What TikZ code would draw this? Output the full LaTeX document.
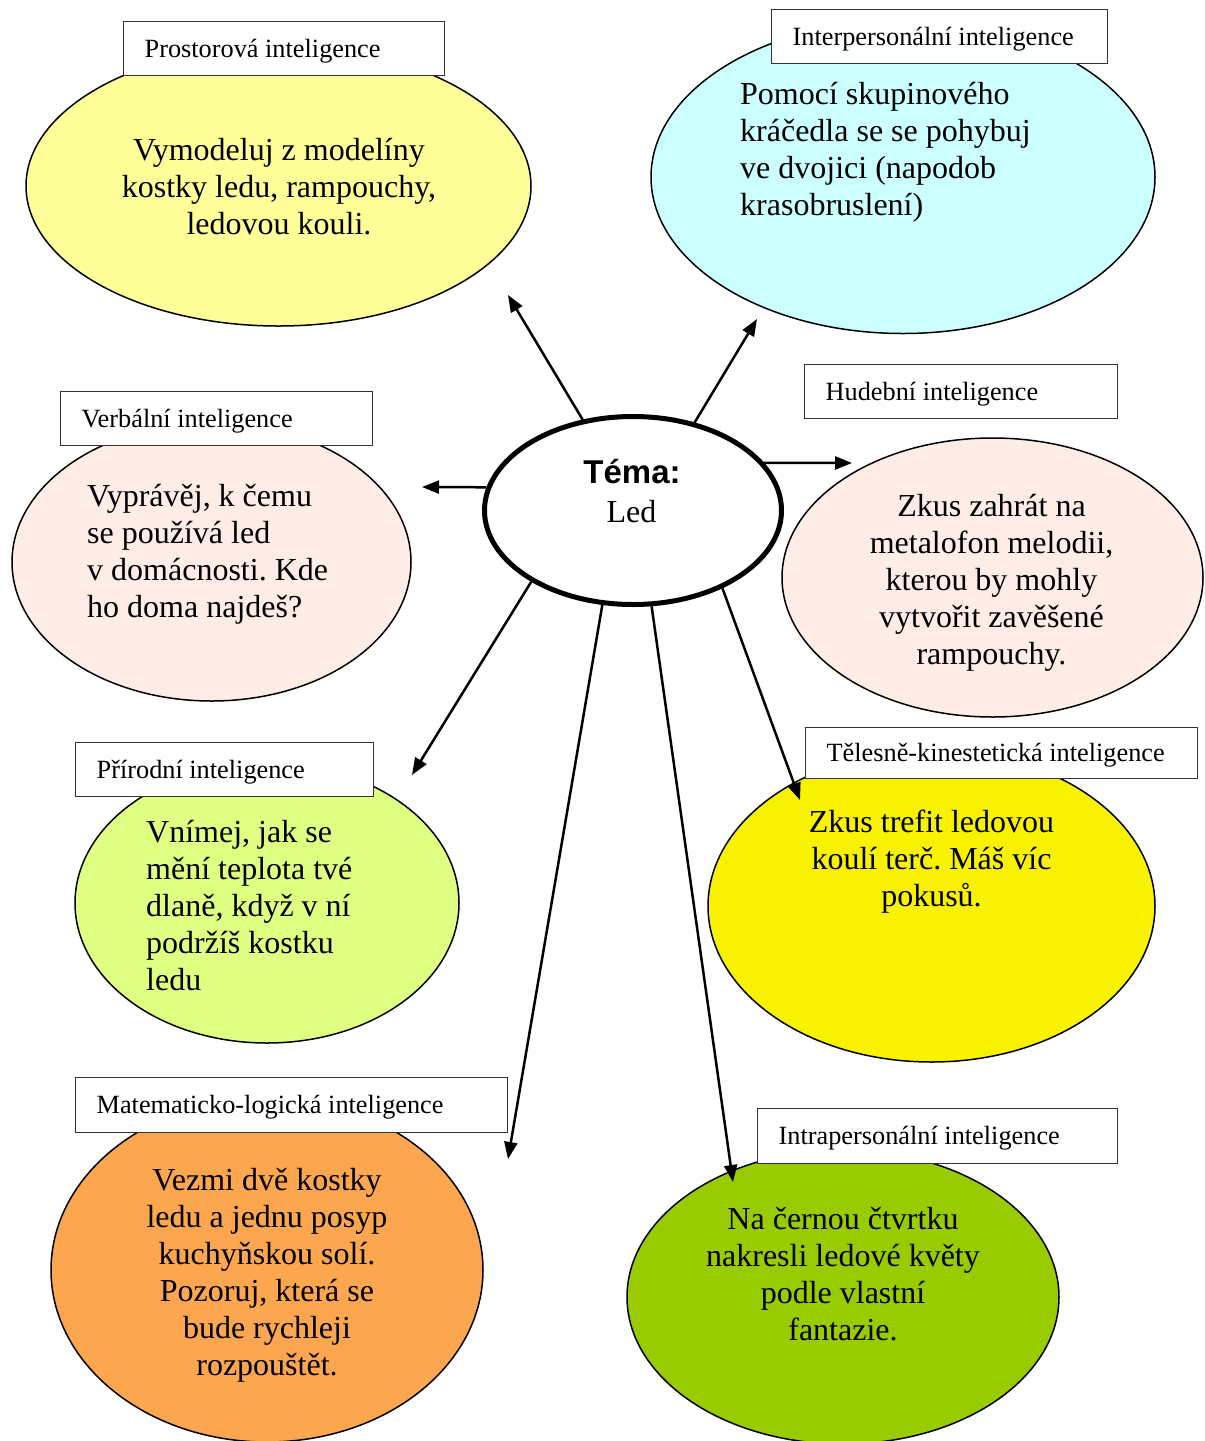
\documentclass[tikz,border=0pt]{standalone}
\usepackage{fontspec}
\setmainfont{Liberation Serif}
\newfontfamily\headsans{Liberation Sans}
\usetikzlibrary{shapes.geometric,arrows.meta}
\frenchspacing

\definecolor{spaceYellow}{HTML}{FFFF99}
\definecolor{socialCyan}{HTML}{CCFFFF}
\definecolor{softPeach}{HTML}{FEEDE6}
\definecolor{natureLime}{HTML}{DEFF82}
\definecolor{bodyYellow}{HTML}{F8F200}
\definecolor{logicOrange}{HTML}{FCA64F}
\definecolor{selfGreen}{HTML}{99CC00}

\begin{document}
\begin{tikzpicture}[x=1pt,y=-1pt,
  bubble/.style={ellipse, draw=black, line width=1.5pt, inner sep=0pt, outer sep=0pt},
  tagbox/.style={draw=black!80, line width=1.3pt, fill=white, anchor=north west,
    inner xsep=21pt, inner ysep=0pt, text height=17pt, text depth=0pt,
    font=\fontsize{26.3}{30}\selectfont},
  body/.style={inner sep=0pt, font=\fontsize{32}{37}\selectfont},
  hub/.style={ellipse, draw=black, line width=5pt, fill=white, inner sep=0pt},
  link/.style={line width=2.5pt, -{Triangle[length=17pt,width=13pt]}}]

\useasboundingbox (0,0) rectangle (1205,1441);

% coloured activity bubbles
\node[bubble, fill=spaceYellow, minimum width=505pt, minimum height=280pt] (eP)  at (278.5,186) {};
\node[bubble, fill=socialCyan,  minimum width=504pt, minimum height=313pt] (eI)  at (903,177) {};
\node[bubble, fill=softPeach,   minimum width=399pt, minimum height=278pt] (eV)  at (211.5,562) {};
\node[bubble, fill=softPeach,   minimum width=421pt, minimum height=279pt] (eH)  at (992.5,577.5) {};
\node[bubble, fill=natureLime,  minimum width=384pt, minimum height=280pt] (ePr) at (267,903) {};
\node[bubble, fill=bodyYellow,  minimum width=447pt, minimum height=312pt] (eT)  at (931.5,906) {};
\node[bubble, fill=logicOrange, minimum width=432pt, minimum height=344pt] (eM)  at (267,1270) {};
\node[bubble, fill=selfGreen,   minimum width=432pt, minimum height=294pt] (eIn) at (843,1297) {};

% name tags of the intelligences
\node[tagbox, minimum width=321pt, minimum height=54pt] (tP)  at (123,21)   {\makebox[279pt][l]{Prostorová inteligence}};
\node[tagbox, minimum width=336pt, minimum height=54pt] (tI)  at (771,9)    {\makebox[294pt][l]{Interpersonální inteligence}};
\node[tagbox, minimum width=312pt, minimum height=54pt] (tV)  at (60,391)   {\makebox[270pt][l]{Verbální inteligence}};
\node[tagbox, minimum width=313pt, minimum height=54pt] (tH)  at (804,364)  {\makebox[271pt][l]{Hudební inteligence}};
\node[tagbox, minimum width=298pt, minimum height=54pt] (tPr) at (75,742)   {\makebox[256pt][l]{Přírodní inteligence}};
\node[tagbox, minimum width=392pt, minimum height=51pt] (tT)  at (805,727)  {\makebox[350pt][l]{Tělesně-kinestetická inteligence}};
\node[tagbox, minimum width=432pt, minimum height=55pt] (tM)  at (75,1077)  {\makebox[390pt][l]{Matematicko-logická inteligence}};
\node[tagbox, minimum width=360pt, minimum height=55pt] (tIn) at (757,1108) {\makebox[318pt][l]{Intrapersonální inteligence}};

% activity texts
\node[body, align=center, anchor=north] (xP) at (279,134.1)
  {\strut Vymodeluj z modelíny\\kostky ledu, rampouchy,\\ledovou kouli.\strut};
\node[body, align=left, anchor=north west] (xI) at (740,78.1)
  {\strut Pomocí skupinového\\kráčedla se se pohybuj\\ve dvojici (napodob\\krasobruslení)\strut};
\node[body, align=left, anchor=north west] (xV) at (87,480.1)
  {\strut Vyprávěj, k čemu\\se používá led\\v~domácnosti. Kde\\ho doma najdeš?\strut};
\node[body, align=center, anchor=north] (xH) at (991.5,490.1)
  {\strut Zkus zahrát na\\metalofon melodii,\\kterou by mohly\\vytvořit zavěšené\\rampouchy.\strut};
\node[body, align=left, anchor=north west] (xPr) at (146,816.1)
  {\strut Vnímej, jak se\\mění teplota tvé\\dlaně, když v ní\\podržíš kostku\\ledu\strut};
\node[body, align=center, anchor=north] (xT) at (931.5,806.1)
  {\strut Zkus trefit ledovou\\koulí terč. Máš víc\\pokusů.\strut};
\node[body, align=center, anchor=north] (xM) at (267,1164.1)
  {\strut Vezmi dvě kostky\\ledu a jednu posyp\\kuchyňskou solí.\\Pozoruj, která se\\bude rychleji\\rozpouštět.\strut};
\node[body, align=center, anchor=north] (xIn) at (843,1203.1)
  {\strut Na černou čtvrtku\\nakresli ledové květy\\podle vlastní\\fantazie.\strut};

% central topic
\node[hub, minimum width=297pt, minimum height=188pt] (c) at (633,510.5) {};
\node[font=\headsans\bfseries\fontsize{33}{38}\selectfont, anchor=base, inner sep=0pt] (tema) at (632,483) {Téma:};
\node[font=\fontsize{32}{37}\selectfont, anchor=base, inner sep=0pt] (led) at (631.5,522) {Led};

% arrow tips
\coordinate (aP)  at (508,295);
\coordinate (aI)  at (757,319);
\coordinate (aH)  at (852,463);
\coordinate (aV)  at (422,487);
\coordinate (aPr) at (412,775);
\coordinate (aT)  at (800,800);
\coordinate (aM)  at (508,1159);
\coordinate (aIn) at (733,1182);

% connectors from the topic
\draw[link] (c.119.5) -- (aP);
\draw[link] (c.55.6)  -- (aI);
\draw[link] (c.20)    -- (aH);
\draw[link] (c.171.1) -- (aV);
\draw[link] (c.215.2) -- (aPr);
\draw[link] (c.319.4) -- (aT);
\draw[link] (c.252.6) -- (aM);
\draw[link] (c.281.1) -- (aIn);
\end{tikzpicture}
\end{document}
